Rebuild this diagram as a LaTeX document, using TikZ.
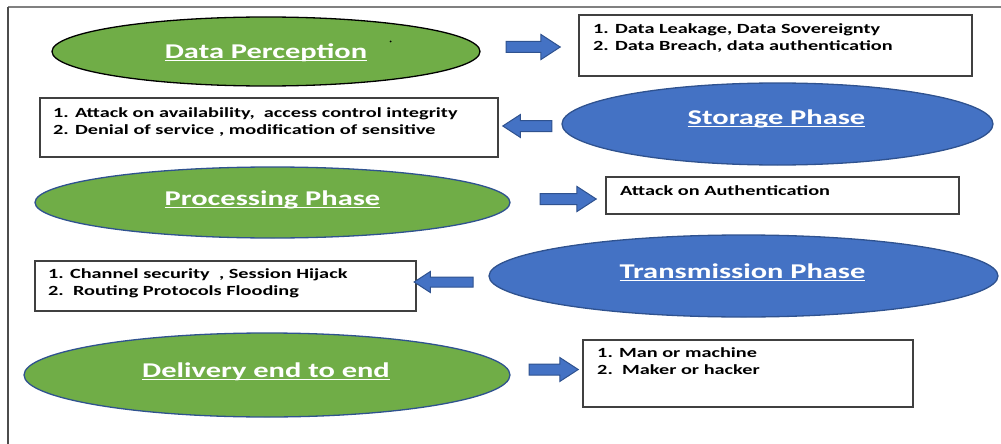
\documentclass[tikz,border=0pt]{standalone}
\usepackage{fontspec}
\setmainfont{Carlito}
\usetikzlibrary{shapes.geometric, shapes.arrows, positioning}

\definecolor{leafgreen}{HTML}{70AD47}
\definecolor{phaseblue}{HTML}{4472C4}
\definecolor{rimblue}{HTML}{2F528F}

\newcommand{\wide}[1]{\scalebox{1.45}[1]{#1}}
\newcommand{\ulined}[1]{\setbox0=\hbox{#1}\makebox[0pt][l]{\rule[-3pt]{\wd0}{1.5pt}}\box0}

\begin{document}
\begin{tikzpicture}[x=1pt, y=-1pt,
    phase/.style={ellipse, draw=rimblue, line width=1.3pt, inner sep=0pt},
    title/.style={text=white, font=\bfseries\fontsize{21}{25}\selectfont, inner sep=0pt, anchor=base},
    threat/.style={draw=black!75, line width=1.1pt, inner sep=0pt},
    threattext/.style={font=\bfseries\fontsize{14}{17.5}\selectfont, align=left, inner sep=0pt, anchor=north west},
    rarrow/.style={single arrow, fill=phaseblue, draw=rimblue, line width=1pt, inner xsep=0pt, inner ysep=5pt, single arrow head extend=7pt, single arrow tip angle=66},
    larrow/.style={rarrow, shape border rotate=180}]
    \useasboundingbox (0,0) rectangle (1001,444);

    % frame
    \draw[gray, line width=1.8pt] (8,7) -- (1001,7);
    \draw[black!70, line width=1.3pt] (8,7) -- (8,444);

    % phases
    \node[phase, fill=leafgreen, draw=black, minimum width=428, minimum height=69] (dp) at (266,51.5) {};
    \node[phase, fill=phaseblue, minimum width=431, minimum height=82] (sp) at (777.5,124) {};
    \node[phase, fill=leafgreen, minimum width=475, minimum height=71] (pp) at (272.5,202.5) {};
    \node[phase, fill=phaseblue, minimum width=509, minimum height=82] (tp) at (743.5,276) {};
    \node[phase, fill=leafgreen, minimum width=486, minimum height=84] (de) at (267,375) {};
    \fill (390.5,41.5) circle (1);

    \node[title] (dpt) at (266,58.3) {\ulined{\wide{Data Perception}}};
    \node[title] (spt) at (776.5,124) {\ulined{\wide{Storage Phase}}};
    \node[title] (ppt) at (272.5,205) {\ulined{\wide{Processing Phase}}};
    \node[title] (tpt) at (742.5,278) {\ulined{\wide{Transmission Phase}}};
    \node[title] (det) at (266,377) {\ulined{\wide{Delivery end to end}}};

    % threats
    \node[threat, minimum width=393, minimum height=61] (b1) at (775.5,45.5) {};
    \node[threat, minimum width=458, minimum height=59] (b2) at (269,127.5) {};
    \node[threat, minimum width=353, minimum height=37] (b3) at (782.5,195.5) {};
    \node[threat, minimum width=381, minimum height=50] (b4) at (225.5,286) {};
    \node[threat, minimum width=330, minimum height=67] (b5) at (748,373.5) {};

    \node[threattext] (b1t) at (593,23.3) {\wide{1. Data Leakage, Data Sovereignty}\\\wide{2. Data Breach, data authentication}};
    \node[threattext] (b2t) at (53,107.3) {\wide{1. Attack on availability, \ access control integrity}\\\wide{2. Denial of service , modification of sensitive}};
    \node[threattext] (b3t) at (620,185.3) {\wide{Attack on Authentication}};
    \node[threattext] (b4t) at (48,268.3) {\wide{1. Channel security \ , Session Hijack}\\\wide{2.\ \ Routing Protocols Flooding}};
    \node[threattext] (b5t) at (597,347.3) {\wide{1. Man or machine}\\\wide{2.\ \ Maker or hacker}};

    % arrows
    \node[rarrow, minimum height=54] (a1) at (529,47) {};
    \node[larrow, minimum height=49, single arrow head extend=6pt] (a2) at (531.5,126) {};
    \node[rarrow, minimum height=56] (a3) at (564,199) {};
    \node[larrow, minimum height=59, inner ysep=4.5pt, single arrow head extend=5.5pt] (a4) at (447.5,282) {};
    \node[rarrow, minimum height=49, single arrow head extend=6.5pt] (a5) at (549.5,369.5) {};
\end{tikzpicture}
\end{document}
